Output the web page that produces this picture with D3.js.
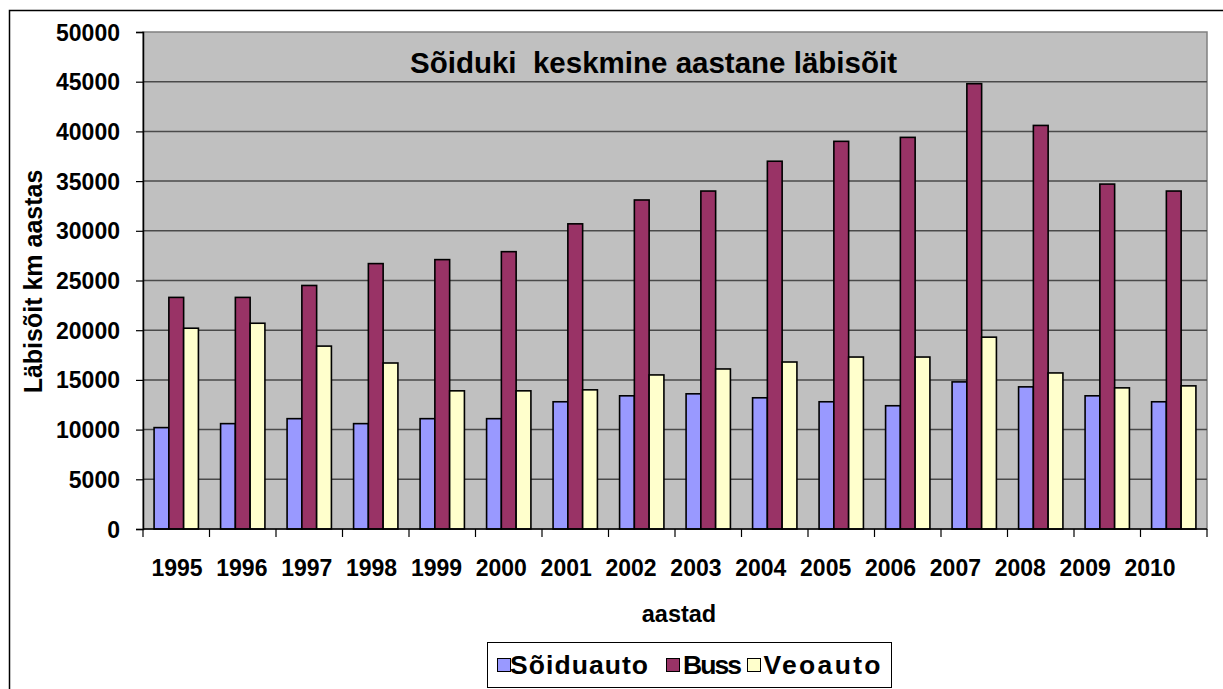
<!DOCTYPE html>
<html>
<head>
<meta charset="utf-8">
<script src="https://cdn.jsdelivr.net/npm/d3@7"></script>
<style>
  html, body { margin: 0; padding: 0; background: #fff; }
  svg { display: block; font-family: "Liberation Sans", Arial, sans-serif; font-weight: bold; }
</style>
</head>
<body>
<svg id="chart" width="1223" height="689"></svg>
<script>
// Average yearly mileage per vehicle type (km per year)
const years = ["1995","1996","1997","1998","1999","2000","2001","2002","2003","2004","2005","2006","2007","2008","2009","2010"];
const soiduauto = [10200,10600,11100,10600,11100,11100,12800,13400,13600,13200,12800,12400,14800,14300,13400,12800];
const buss      = [23300,23300,24500,26700,27100,27900,30700,33100,34000,37000,39000,39400,44800,40600,34700,34000];
const veoauto   = [20200,20700,18400,16700,13900,13900,14000,15500,16100,16800,17300,17300,19300,15700,14200,14400];
const seriesNames = ["Sõiduauto","Buss","Veoauto"];
const yTicks = [0,5000,10000,15000,20000,25000,30000,35000,40000,45000,50000];

const titleText = "Sõiduki  keskmine aastane läbisõit";
const xTitle = "aastad";
const yTitle = "Läbisõit km aastas";

const colors = ["#9999FF", "#993366", "#FFFFCC"];
const seriesValues = [soiduauto, buss, veoauto];

const svg = d3.select("#chart");
const plot = { left: 143, right: 1207, top: 32, bottom: 529 };

// outer chart frame
svg.append("rect")
  .attr("x", 9.5).attr("y", 10.5)
  .attr("width", 1240).attr("height", 700)
  .attr("fill", "#fff").attr("stroke", "#000").attr("stroke-width", 1.5);

const y = d3.scaleLinear().domain([0, 50000]).range([plot.bottom, plot.top]);
const x0 = d3.scaleBand().domain(years).range([plot.left, plot.right])
  .paddingInner(1/3).paddingOuter(1/6);
const x1 = d3.scaleBand().domain(seriesNames).range([0, x0.bandwidth()]);
// year labels sit on a slightly narrower track than the categories
const xLabel = d3.scalePoint().domain(years).range([177, 1150]);

// plot background
svg.append("rect")
  .attr("x", plot.left).attr("y", plot.top)
  .attr("width", plot.right - plot.left).attr("height", plot.bottom - plot.top)
  .attr("fill", "#C0C0C0").attr("stroke", "#808080").attr("stroke-width", 1.5);

// horizontal gridlines
svg.append("g").selectAll("line")
  .data(yTicks.filter(t => t > 0 && t < 50000))
  .join("line")
  .attr("x1", plot.left).attr("x2", plot.right)
  .attr("y1", d => y(d)).attr("y2", d => y(d))
  .attr("stroke", "#4a4a4a").attr("stroke-width", 1.5);

// bars
const groups = svg.append("g").selectAll("g")
  .data(years)
  .join("g")
  .attr("transform", d => `translate(${x0(d)},0)`);

groups.selectAll("rect")
  .data((d, i) => seriesNames.map((s, k) => ({ s, k, v: seriesValues[k][i] })))
  .join("rect")
  .attr("x", d => x1(d.s))
  .attr("width", x1.bandwidth())
  .attr("y", d => y(d.v))
  .attr("height", d => y(0) - y(d.v))
  .attr("fill", d => colors[d.k])
  .attr("stroke", "#000").attr("stroke-width", 1.6);

// y axis
const yAxis = d3.axisLeft(y).tickValues(yTicks).tickSize(7).tickPadding(16).tickFormat(d3.format("d"));
const gy = svg.append("g").attr("transform", `translate(${plot.left},0)`).call(yAxis);
gy.select(".domain").attr("stroke", "#000").attr("stroke-width", 1.5);
gy.selectAll(".tick line").attr("stroke", "#000").attr("stroke-width", 1.2);
gy.selectAll(".tick text")
  .attr("font-size", 23).attr("font-weight", "bold").attr("fill", "#000")
  .attr("font-family", "Liberation Sans, Arial, sans-serif").attr("dy", "0.35em");

// x axis: line along zero and ticks at category boundaries
const bounds = d3.range(years.length + 1).map(i => plot.left + i * x0.step());
svg.append("line")
  .attr("x1", plot.left).attr("x2", plot.right)
  .attr("y1", y(0)).attr("y2", y(0))
  .attr("stroke", "#000").attr("stroke-width", 1.5);
svg.append("g").selectAll("line")
  .data(bounds)
  .join("line")
  .attr("x1", d => d).attr("x2", d => d)
  .attr("y1", y(0)).attr("y2", y(0) + 8)
  .attr("stroke", "#000").attr("stroke-width", 1.2);

svg.append("g").selectAll("text")
  .data(years)
  .join("text")
  .attr("x", d => xLabel(d))
  .attr("y", 576)
  .attr("text-anchor", "middle")
  .attr("font-size", 23)
  .text(d => d);

// titles
svg.append("text")
  .attr("x", 653.5).attr("y", 73)
  .attr("text-anchor", "middle")
  .attr("font-size", 29.5)
  .attr("xml:space", "preserve")
  .style("white-space", "pre")
  .text(titleText);

svg.append("text")
  .attr("x", 679).attr("y", 622)
  .attr("text-anchor", "middle")
  .attr("font-size", 23.5)
  .text(xTitle);

svg.append("text")
  .attr("transform", "translate(41.5,281.5) rotate(-90)")
  .attr("text-anchor", "middle")
  .attr("font-size", 25)
  .text(yTitle);

// legend
const legend = svg.append("g");
legend.append("rect")
  .attr("x", 487.5).attr("y", 642.5)
  .attr("width", 404).attr("height", 45)
  .attr("fill", "#fff").attr("stroke", "#000").attr("stroke-width", 1);

const legendItems = [
  { sx: 497, tx: 510, tl: 138 },
  { sx: 666, tx: 683, tl: 59 },
  { sx: 747, tx: 763.5, tl: 117 }
];
seriesNames.forEach((name, k) => {
  const it = legendItems[k];
  legend.append("rect")
    .attr("x", it.sx + 0.5).attr("y", 658.5)
    .attr("width", 13).attr("height", 13)
    .attr("fill", colors[k]).attr("stroke", "#000").attr("stroke-width", 1);
  legend.append("text")
    .attr("x", it.tx).attr("y", 674)
    .attr("font-size", 26.5)
    .attr("textLength", it.tl).attr("lengthAdjust", "spacing")
    .text(name);
});
</script>
</body>
</html>
